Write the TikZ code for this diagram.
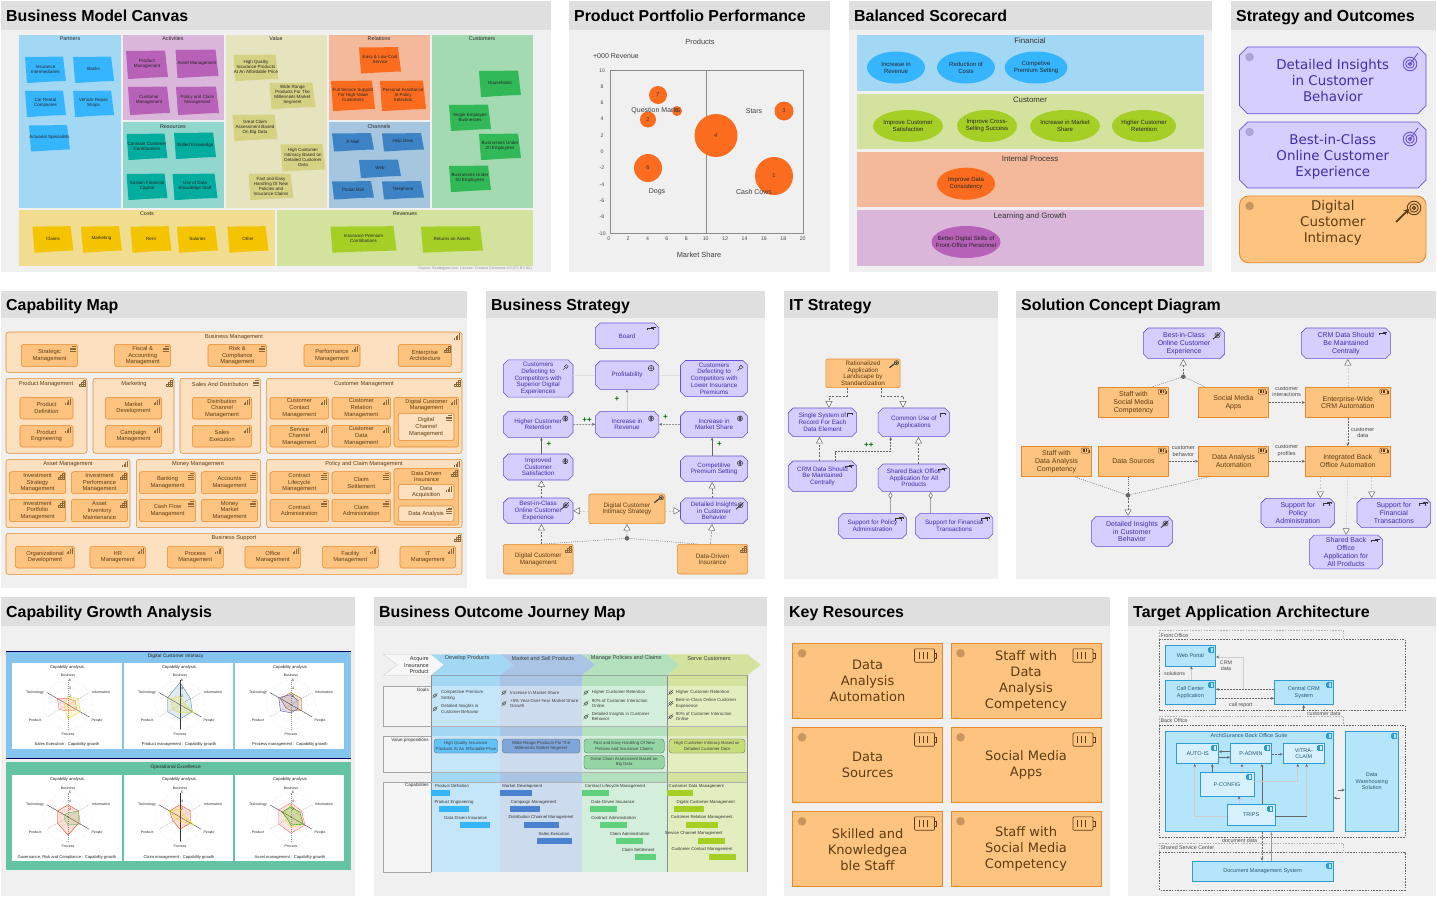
\documentclass[tikz,border=0pt]{standalone}
\usepackage{fontspec}
\setmainfont{Liberation Sans}
\newfontfamily\verdfont{DejaVu Sans}
\usetikzlibrary{arrows.meta,shapes.geometric,shapes.misc,calc}
\definecolor{panelbg}{HTML}{F0F0F0}
\definecolor{titlebg}{HTML}{DFDFDF}
\definecolor{skyband}{HTML}{A3D8F5}
\definecolor{limeband}{HTML}{D3E29D}
\definecolor{peachband}{HTML}{F4B99A}
\definecolor{lilacband}{HTML}{DAB7DA}
\definecolor{tealband}{HTML}{92D7CE}
\definecolor{creamband}{HTML}{E6E3BF}
\definecolor{steelband}{HTML}{A6C6E0}
\definecolor{mintband}{HTML}{A3DAB2}
\definecolor{sandband}{HTML}{F0DD8F}
\definecolor{skynote}{HTML}{36B5FF}
\definecolor{plumnote}{HTML}{B861B8}
\definecolor{tealnote}{HTML}{00AD9F}
\definecolor{olivenote}{HTML}{D6D283}
\definecolor{orangenote}{HTML}{FC6C1E}
\definecolor{bluenote}{HTML}{3C83C6}
\definecolor{greennote}{HTML}{32B957}
\definecolor{goldnote}{HTML}{F5C400}
\definecolor{limenote}{HTML}{A6CF26}
\definecolor{motfill}{HTML}{D6CEFF}
\definecolor{motline}{HTML}{6A50D8}
\definecolor{mottext}{HTML}{3F2FA8}
\definecolor{resfill}{HTML}{FFC380}
\definecolor{resline}{HTML}{E58A2E}
\definecolor{restext}{HTML}{5C3D12}
\definecolor{capfill}{HTML}{FDE0BF}
\definecolor{appfill}{HTML}{B5E5FB}
\definecolor{appline}{HTML}{2F9BD4}
\definecolor{apptext}{HTML}{2A5A78}
\definecolor{linegray}{HTML}{666666}
\definecolor{faintgray}{HTML}{CCCCCC}
\definecolor{jBlueD}{HTML}{A3D8F5}
\definecolor{jBlueL}{HTML}{C5E6F8}
\definecolor{jSteelD}{HTML}{A9C4E4}
\definecolor{jSteelL}{HTML}{CCDCEE}
\definecolor{jMintD}{HTML}{B3E0BD}
\definecolor{jMintL}{HTML}{D3EEDA}
\definecolor{jLimeD}{HTML}{D3E29D}
\definecolor{jLimeL}{HTML}{E2EEC0}
\definecolor{jBlueBar}{HTML}{4A82CF}
\definecolor{jGreenBar}{HTML}{5FD07C}
\definecolor{growthblue}{HTML}{85C4EE}
\definecolor{growthgreen}{HTML}{64C3A3}
\definecolor{motdot}{HTML}{AFA4D6}
\definecolor{resdot}{HTML}{C9965F}
\definecolor{iconbrown}{HTML}{8A6A3A}
\tikzset{
  paneltitle/.style={anchor=base west,inner sep=0pt,font=\fontsize{15.9}{18}\selectfont\bfseries},
  fivepx/.style={align=center,inner sep=0pt,text=black!85,font=\fontsize{4.5}{5}\selectfont},
  cvhead/.style={inner sep=0pt,text=black!85,font=\fontsize{5.4}{6}\selectfont},
  bandlab/.style={inner sep=0pt,text=black!80,font=\fontsize{7.8}{8}\selectfont},
  ticklab/.style={inner sep=0pt,text=black!70,font=\fontsize{5.2}{5.4}\selectfont},
  chartlab/.style={inner sep=0pt,text=black!75,font=\fontsize{7}{8}\selectfont},
  bubble/.style={circle,fill=orangenote,inner sep=0pt,text=black!80,font=\fontsize{5.5}{5.5}\selectfont},
  scoreell/.style={ellipse,inner sep=0pt,align=center,text=black!85,font=\fontsize{6}{7}\selectfont},
  bigmot/.style={chamfered rectangle,chamfered rectangle xsep=4pt,chamfered rectangle ysep=4pt,draw=motline,line width=.7pt,fill=motfill,align=center,inner sep=0pt,text=mottext,font=\verdfont\fontsize{13.4}{16}\selectfont},
  bigres/.style={rounded corners=9pt,draw=resline,line width=.9pt,fill=resfill,align=center,inner sep=0pt,text=restext,font=\verdfont\fontsize{13.4}{16}\selectfont},
  keybox/.style={draw=resline,line width=1pt,fill=resfill,align=center,inner sep=0pt,text=restext,font=\verdfont\fontsize{13}{16}\selectfont,execute at begin node={\rule{0pt}{15pt}}},
  capgroup/.style={rounded corners=2.5pt,draw=resline,line width=.55pt,fill=capfill},
  capbox/.style={rounded corners=2.5pt,draw=resline,line width=.55pt,fill=resfill,align=center,inner sep=0pt,text=restext,font=\fontsize{5.8}{6.6}\selectfont},
  capinner/.style={capbox,fill=capfill},
  caplab/.style={inner sep=0pt,text=restext,font=\fontsize{5.7}{6.6}\selectfont,align=center},
  motbox/.style={chamfered rectangle,chamfered rectangle xsep=2.4pt,chamfered rectangle ysep=2.4pt,draw=motline,line width=.55pt,fill=motfill,align=center,inner sep=0pt,text=mottext,font=\fontsize{6.3}{6.7}\selectfont},
  stratres/.style={rounded corners=2pt,draw=resline,line width=.55pt,fill=resfill,align=center,inner sep=0pt,text=restext,font=\fontsize{6.3}{6.7}\selectfont},
  solmot/.style={motbox,font=\fontsize{7}{7.9}\selectfont},
  solres/.style={draw=resline,line width=.6pt,fill=resfill,align=center,inner sep=0pt,text=restext,font=\fontsize{7}{7.9}\selectfont},
  junc/.style={circle,fill=linegray,minimum size=4.6pt,inner sep=0pt},
  flowln/.style={draw=linegray,line width=.55pt,dash pattern=on 2pt off 1pt,-{Stealth[length=3pt,width=2.8pt]}},
  solidln/.style={draw=linegray,line width=.55pt,-{Stealth[length=3pt,width=2.8pt]}},
  faintln/.style={draw=faintgray,line width=.5pt,-{Stealth[length=3pt,width=2.8pt,color=linegray]}},
  realln/.style={draw=linegray,line width=.5pt,dash pattern=on 2pt off 1.5pt,-{Triangle[open,length=6.5pt,width=7pt,fill=white]}},
  lightreal/.style={draw=faintgray,line width=.5pt,dash pattern=on 2pt off 1.5pt,-{Triangle[open,color=linegray,length=6.5pt,width=7pt,fill=white]}},
  assocln/.style={draw=linegray,line width=.45pt,dash pattern=on 1pt off 1.2pt},
  aggrln/.style={draw=faintgray!80!black,line width=.5pt,-{Diamond[open,color=linegray,length=7pt,width=4pt,fill=white]}},
  plusmark/.style={inner sep=0pt,text=green!45!black,font=\fontsize{8}{8}\selectfont\bfseries},
  edgelab/.style={align=center,inner sep=0pt,text=black!70,font=\fontsize{5.6}{6.6}\selectfont},
  talab/.style={edgelab,font=\fontsize{5.3}{6.2}\selectfont},
  icoline/.style={draw=iconbrown,line width=.4pt},
  motico/.style={draw=black!80,line width=.45pt},
  resicoline/.style={draw=restext,line width=.6pt},
  radring/.style={draw=black!30,line width=.3pt,dotted},
  radspoke/.style={draw=black!40,line width=.3pt,dash pattern=on 1pt off 1pt},
  raddark/.style={draw=black!80,line width=.35pt},
  radtext/.style={inner sep=0pt,text=black!85,font=\fontsize{3.5}{4}\selectfont},
  radcap/.style={inner sep=0pt,text=black!85,font=\fontsize{4.1}{5}\selectfont},
  jtext/.style={anchor=west,align=left,inner sep=0pt,text=black!75,font=\fontsize{4.4}{5.3}\selectfont},
  jright/.style={anchor=east,align=right,inner sep=0pt,text=black!80,font=\fontsize{4.6}{7}\selectfont},
  jhead/.style={inner sep=0pt,text=black!75,font=\fontsize{5.6}{6}\selectfont},
  jvalue/.style={rounded corners=3pt,draw=linegray,line width=.35pt,align=center,inner sep=0pt,text=black!75,font=\fontsize{4.3}{5.2}\selectfont},
  jcap/.style={inner sep=0pt,text=black!80,font=\fontsize{4.3}{5}\selectfont},
  appbox/.style={draw=appline,line width=.6pt,fill=appfill,align=center,inner sep=0pt,text=apptext,font=\fontsize{5.5}{6.4}\selectfont},
  appinner/.style={appbox,fill=appfill!55!white},
  grpdash/.style={draw=black!60,line width=.45pt,dash pattern=on 1.6pt off 1.2pt},
  grptab/.style={draw=black!30,line width=.4pt,dash pattern=on 1.6pt off 1.2pt},
  grplab/.style={anchor=west,inner sep=0pt,text=black!70,font=\fontsize{5.3}{5.5}\selectfont},
}
\newcounter{noteno}
\newcommand\panel[7]{%
  \fill[panelbg] (#2,#3) rectangle (#4,#5);
  \fill[titlebg] (#2,#3) rectangle (#4,#6);
  \node[paneltitle] (#1) at (#2+5,{(#3+#6)/2+5.5}) {#7};}
\newcommand\boxat[7][]{%
  \node[#2,minimum width={(#5-#3)*1pt},minimum height={(#6-#4)*1pt}] (#1) at ({(#3+#5)/2},{(#4+#6)/2}) {#7};
  \boxicon{#1}}
\newcommand\boxicon[2]{\begin{scope}[shift={(#1.north east)}]#2\end{scope}}
\newcommand\sticky[6]{%
  \stepcounter{noteno}
  \fill[#5] (#1-#3/2,#2-#4/2) -- (#1+#3/2-3,#2-#4/2-.4) -- (#1+#3/2,#2+#4/2-2) .. controls (#1,#2+#4/2-1.5) and (#1-#3/2+8,#2+#4/2) .. (#1-#3/2+2,#2+#4/2) -- cycle;
  \node[fivepx] (note\thenoteno) at (#1,#2-1) {#6};}
\newcommand\barico{\foreach \i/\h in {0/2,1.6/3.5,3.2/5,4.8/6.5}{\draw[icoline] (-8+\i,8)--(-8+\i,8-\h);}}
\newcommand\listico{\draw[icoline] (-6,2.2)--(-2,2.2);\foreach \yy in {3.9,5.6,7.3}{\draw[icoline] (-8,\yy)--(-2,\yy);}}
\newcommand\gridico{\draw[icoline] (-8,8) rectangle (-2,6) (-6,8) rectangle (-4,4) (-4,8) rectangle (-2,2) (-6,6)--(-2,6) (-4,4)--(-2,4);}
\newcommand\resico{\draw[resicoline,rounded corners=1pt] (-28.5,5.6) rectangle (-8.5,19);
  \draw[resicoline] (-8.5,10)--(-6.5,10)--(-6.5,15)--(-8.5,15);
  \foreach \i in {-24,-20,-16}{\draw[resicoline] (\i,9)--(\i,16);}}
\newcommand\smallres{\begin{scope}[scale=.38,resicoline/.style={draw=restext,line width=.35pt}]\resico\end{scope}}
\newcommand\goalico{\draw[motico] (-5.5,5) circle (2.6) (-5.5,5) circle (1.2);\fill[black!80] (-5.5,5) circle (.7) (-6,2.4) rectangle (-5,7.6);}
\newcommand\outcomeico{\draw[motico] (-5,5) circle (2.6) (-5,5) circle (1.2);\draw[motico,line width=.8pt] (-9.5,9)--(-5,5);\draw[motico] (-5,5)--(-2,2);}
\newcommand\driverico{\draw[motico] (-5.5,5) circle (2.8) (-8.3,5)--(-2.7,5) (-5.5,2.2)--(-5.5,7.8);}
\newcommand\assessico{\draw[motico] (-4.5,4.5) circle (1.9) (-5.8,5.8)--(-8,8);}
\newcommand\principico{\draw[motico] (-7,7)--(-7,3)--(-2,3)--(-2,5);}
\newcommand\reqico{\draw[motico] (-9,5)--(-9,3)--(-3,3)--(-3,5) (-5.5,1.7)--(-1.5,1.7)--(-1.5,3);}
\newcommand\courseico{\draw[motico] (-4,4) circle (2.2) (-4,4) circle (1);\draw[motico,line width=1.1pt] (-11,9)--(-6,5);}
\newcommand\appico{\draw[draw=appline,line width=.3pt] (-7,2) rectangle (-2.5,7) (-8,3) rectangle (-6,4) (-8,5) rectangle (-6,6);}
\newcommand\bigtarget[3]{\draw[draw=#3,line width=.9pt] (#1,#2) circle (6.8) (#1,#2) circle (4.2) (#1,#2) circle (1.8);\fill[#3] (#1,#2) circle (.8);}
\newcommand\radpoly[7]{\filldraw[draw=#1,fill=#1,fill opacity=.16,line width=.35pt] (-90:#2*4.05)--(-30:#3*4.05)--(30:#4*4.05)--(90:#5*4.05)--(150:#6*4.05)--(210:#7*4.05)--cycle;}
\newcommand\radchart[6]{%
  \begin{scope}[shift={(#2,#3)}]
    \fill[white] (0,0) rectangle (#4,86);
    \node[radcap] (#1title) at (55,4.2) {Capability analysis};
    \begin{scope}[shift={(56,41.7)}]
      \foreach \rr in {8.1,16.2,24.3}{\draw[radring] (0,0) circle (\rr);}
      \foreach \ang in {-90,-30,90,150}{\draw[radspoke] (0,0)--(\ang:24.3);}
      \foreach \ang in {30,210}{\draw[raddark] (0,0)--(\ang:24.3);}
      #6
      \foreach \v/\rr in {2/8.1,4/16.2,6/24.3}{\node[radtext,anchor=west] (#1tick\v) at (1,-\rr) {\v};}
      \node[radtext] (#1a) at (0,-29) {Business};
      \node[radtext] (#1b) at (33,-12.3) {Information};
      \node[radtext] (#1c) at (29,15.7) {People};
      \node[radtext] (#1d) at (0,29.7) {Process};
      \node[radtext] (#1e) at (-33,15.7) {Product};
      \node[radtext] (#1f) at (-33,-12.3) {Technology};
    \end{scope}
    \node[radcap] (#1cap) at (55,81.7) {#5};
  \end{scope}}
\newcommand\capbar[6]{%
  \stepcounter{noteno}
  \node[jcap] (bar\thenoteno) at (#2,#3) {#1};
  \fill[#6] (#4,#3+4.3) rectangle (#5,#3+9.8);}
\newcommand\jgoal[4]{%
  \stepcounter{noteno}
  \draw[black!70,line width=.35pt] (#1,#2) circle (1.9) (#1-2.5,#2+2.5)--(#1+2.5,#2-2.5);
  \node[jtext] (goal\thenoteno) at (#3,#2) {#4};}
\begin{document}
\begin{tikzpicture}[x=1pt,y=-1pt]
\useasboundingbox (0,0) rectangle (1437,897);
\fill[white] (0,0) rectangle (1437,897);
\panel{pCanvas}{1}{1}{551}{272}{30}{Business Model Canvas}
\panel{pPortfolio}{569}{1}{830}{272}{30}{Product Portfolio Performance}
\panel{pScore}{849}{1}{1212}{272}{30}{Balanced Scorecard}
\panel{pOutcome}{1231}{1}{1436}{272}{30}{Strategy and Outcomes}
\panel{pCapMap}{1}{291}{467}{588}{318}{Capability Map}
\panel{pBizStrat}{486}{291}{765}{579}{318}{Business Strategy}
\panel{pItStrat}{784}{291}{998}{579}{318}{IT Strategy}
\panel{pConcept}{1016}{291}{1436}{579}{318}{Solution Concept Diagram}
\panel{pGrowth}{1}{597}{355}{896}{626}{Capability Growth Analysis}
\panel{pJourney}{374}{597}{767}{896}{626}{Business Outcome Journey Map}
\panel{pKey}{784}{597}{1110}{896}{626}{Key Resources}
\panel{pTarget}{1128}{597}{1436}{896}{626}{Target Application Architecture}

\fill[skyband] (19,35) rectangle (121,208);
\fill[lilacband] (122.5,35) rectangle (224,120);
\fill[tealband] (122.5,122) rectangle (224,208);
\fill[creamband] (225.7,35) rectangle (327,208);
\fill[peachband] (329,35) rectangle (430,120);
\fill[steelband] (329,122) rectangle (430,208);
\fill[mintband] (432,35) rectangle (533,208);
\fill[sandband] (19,210) rectangle (275,266);
\fill[limeband] (277,210) rectangle (533,266);
\node[cvhead] (cvPartners) at (70,39) {Partners};
\node[cvhead] (cvActivities) at (173,39) {Activities};
\node[cvhead] (cvValue) at (276,39) {Value};
\node[cvhead] (cvRelations) at (379,39) {Relations};
\node[cvhead] (cvCustomers) at (482,39) {Customers};
\node[cvhead] (cvResources) at (173,127) {Resources};
\node[cvhead] (cvChannels) at (379,127) {Channels};
\node[cvhead] (cvCosts) at (147,214) {Costs};
\node[cvhead] (cvRevenues) at (405,214) {Revenues};
\sticky{45.5}{70}{41}{26}{skynote}{Insurance\\Intermediaries}
\sticky{93.6}{70}{41}{26}{skynote}{Banks}
\sticky{45.5}{104}{41}{26}{skynote}{Car Rental\\Companies}
\sticky{93.6}{104}{41}{26}{skynote}{Vehicle Repair\\Shops}
\sticky{49.5}{138.5}{41}{26}{skynote}{Actuarial Specialists}
\sticky{147}{65}{42}{28}{plumnote}{Product\\Management}
\sticky{197}{64}{43}{28}{plumnote}{Asset Management}
\sticky{149}{101}{42}{28}{plumnote}{Customer\\Management}
\sticky{197.5}{101}{43}{28}{plumnote}{Policy and Claim\\Management}
\sticky{147}{147}{41}{26}{tealnote}{Constant Customer\\Contributions}
\sticky{195}{146}{42}{26}{tealnote}{Skilled Knowledge}
\sticky{147}{187}{41}{26}{tealnote}{Sustain Financial\\Capital}
\sticky{195}{187}{45}{26}{tealnote}{Use of Data\\Knowledge Staff}
\sticky{256}{68}{45}{26}{olivenote}{High Quality\\Insurance Products\\At An Affordable Price}
\sticky{292.5}{96}{46}{26}{olivenote}{Wide Range\\Products For The\\Millennials Market\\Segment}
\sticky{255}{128}{45}{26}{olivenote}{Great Claim\\Assessment Based\\On Big Data}
\sticky{303}{158}{45}{27}{olivenote}{High Customer\\Intimacy Based on\\Detailed Customer\\Data}
\sticky{271}{187}{45}{26}{olivenote}{Fast and Easy\\Handling Of New\\Policies and\\Insurance Claims}
\sticky{380}{60.5}{42}{26}{orangenote}{Easy \& Low-Cost\\Service}
\sticky{353}{96}{44}{30}{orangenote}{Full Service Support\\For High-Value\\Customers}
\sticky{403}{96}{46}{30}{orangenote}{Personal Assistance\\In Policy\\Selection}
\sticky{353}{142.5}{42}{18}{bluenote}{E-Mail}
\sticky{403}{142.5}{42}{18}{bluenote}{Help Desk}
\sticky{380}{169}{42}{18}{bluenote}{Web}
\sticky{353}{190.5}{42}{18}{bluenote}{Postal Mail}
\sticky{403}{190.5}{42}{18}{bluenote}{Telephone}
\sticky{500}{84}{42}{26}{greennote}{Households}
\sticky{470}{118}{42}{26}{greennote}{Single Employee\\Businesses}
\sticky{500}{147}{42}{26}{greennote}{Businesses Under\\20 Employees}
\sticky{470}{179}{42}{26}{greennote}{Businesses Under\\50 Employees}
\sticky{53}{239.6}{41}{26}{goldnote}{Claims}
\sticky{101.5}{239.6}{41}{26}{goldnote}{Marketing}
\sticky{151}{239.6}{41}{26}{goldnote}{Rent}
\sticky{197.5}{239.6}{41}{26}{goldnote}{Salaries}
\sticky{248}{239.6}{41}{26}{goldnote}{Other}
\sticky{363.5}{239.6}{66}{26}{limenote}{Insurance Premium\\Contributions}
\sticky{452}{239.6}{62}{26}{limenote}{Returns on Assets}
\node[inner sep=0pt,text=black!45,font=\fontsize{3.6}{4}\selectfont,anchor=east] (cvSource) at (532,269) {Source: Strategyzer.com, License: Creative Commons 3.0 (CC BY-SA)};

\draw[black!45,line width=.6pt] (610,70.3) rectangle (803,233.3) (706.5,70.3)--(706.5,233.3);
\node[chartlab,font=\fontsize{7.4}{8}\selectfont] (ppTitle) at (700,42) {Products};
\node[chartlab,font=\fontsize{7}{8}\selectfont] (ppRev) at (616,56) {+000 Revenue};
\node[chartlab,font=\fontsize{7.4}{8}\selectfont] (ppShare) at (699,255) {Market Share};
\foreach \v [count=\k from 0] in {10,8,6,4,2,0,-2,-4,-6,-8,-10}{\node[ticklab] (ppy\k) at (602,70.3+16.3*\k) {\v};}
\foreach \v [count=\k from 0] in {0,2,4,6,8,10,12,14,16,18,20}{\node[ticklab] (ppx\k) at (608.7+19.4*\k,239) {\v};}
\node[bubble,minimum size=18pt] (bb7) at (658,95) {7};
\node[bubble,minimum size=10pt] (bb5) at (677,111) {5};
\node[bubble,minimum size=16pt] (bb2) at (648,119.5) {2};
\node[bubble,minimum size=43pt] (bb4) at (716,135.5) {4};
\node[bubble,minimum size=19pt] (bb3) at (784,111) {3};
\node[bubble,minimum size=28pt] (bb6) at (648,168) {6};
\node[bubble,minimum size=38pt] (bb1) at (774,176) {1};
\node[chartlab] (ppQ) at (656,111) {Question Marks};
\node[chartlab] (ppS) at (754,111) {Stars};
\node[chartlab] (ppD) at (657,192) {Dogs};
\node[chartlab] (ppC) at (754,192) {Cash Cows};

\fill[skyband] (857,35) rectangle (1204,90.7);
\fill[limeband] (857,93.7) rectangle (1204,148.7);
\fill[peachband] (857,152) rectangle (1204,207);
\fill[lilacband] (857,210) rectangle (1204,265.7);
\node[bandlab] (bsF) at (1030,41) {Financial};
\node[bandlab] (bsC) at (1030,100) {Customer};
\node[bandlab] (bsI) at (1030,158.5) {Internal Process};
\node[bandlab] (bsL) at (1030,216) {Learning and Growth};
\node[scoreell,fill=skynote,minimum width=58pt,minimum height=32pt] (sa) at (896,67.5) {Increase in\\Revenue};
\node[scoreell,fill=skynote,minimum width=58pt,minimum height=32pt] (sb) at (966,67.5) {Reduction of\\Costs};
\node[scoreell,fill=skynote,minimum width=58pt,minimum height=32pt] (sc) at (1036,67.5) {Competive\\Premium Setting};
\node[scoreell,fill=limenote,minimum width=58pt,minimum height=32pt] (sd) at (908,126) {Improve Customer\\Satisfaction};
\node[scoreell,fill=limenote,minimum width=58pt,minimum height=32pt] (se) at (987,126) {Improve Cross-\\Selling Success};
\node[scoreell,fill=limenote,minimum width=58pt,minimum height=32pt] (sf) at (1065,126) {Increase in Market\\Share};
\node[scoreell,fill=limenote,minimum width=58pt,minimum height=32pt] (sg) at (1144,126) {Higher Customer\\Retention};
\node[scoreell,fill=orangenote,minimum width=58pt,minimum height=32pt] (sh) at (966,183.7) {Improve Data\\Consistency};
\fill[plumnote] (966,242) ellipse (34.5 and 16);
\node[scoreell,minimum width=2pt] (si) at (966,242) {Better Digital Skills of\\Front-Office Personnel};

\boxat[soA]{bigmot}{1239.5}{47}{1426}{113.7}{Detailed Insights\\in Customer\\Behavior}{}
\boxat[soB]{bigmot}{1239.5}{122}{1426}{188}{\rule{0pt}{14pt}Best-in-Class\\Online Customer\\Experience}{}
\boxat[soC]{bigres}{1239.5}{196}{1426}{262.7}{Digital\\Customer\\Intimacy\\\mbox{}}{}
\fill[motdot] (1249.6,57) circle (4.3) (1249.6,132) circle (4.3);
\fill[resdot] (1249.6,206) circle (4.3);
\bigtarget{1410}{64}{motline}
\draw[motline,line width=.8pt] (1410,64)--(1418,53);
\bigtarget{1410}{139}{motline}
\draw[motline,line width=.8pt] (1410,139)--(1418,128);
\bigtarget{1414}{208}{restext}
\draw[restext,line width=1.8pt,-{Stealth[length=5pt,width=6pt]}] (1396,222)--(1409,209);

\boxat[cgBiz]{capgroup}{6}{332}{462}{372.7}{}{\barico}
\boxat[cgProd]{capgroup}{6}{378.3}{87}{453.3}{}{\gridico}
\boxat[cgMark]{capgroup}{93}{378.3}{174}{453.3}{}{\gridico}
\boxat[cgSales]{capgroup}{180}{378.3}{260.7}{453.3}{}{\listico}
\boxat[cgCust]{capgroup}{266.7}{378.3}{462}{453.3}{}{\gridico}
\boxat[cgAsset]{capgroup}{6}{459.3}{130}{527.7}{}{\barico}
\boxat[cgMoney]{capgroup}{136.3}{459.3}{260.7}{527.7}{}{}
\boxat[cgPolicy]{capgroup}{266.7}{459.3}{462}{527.7}{}{\barico}
\boxat[cgSupport]{capgroup}{6}{533.3}{462}{574.3}{}{\gridico}
\node[caplab] (clBiz) at (234,337) {Business Management};
\node[caplab] (clProd) at (46,384) {Product Management};
\node[caplab] (clMark) at (134,384) {Marketing};
\node[caplab] (clSales) at (220,384) {Sales And Distribution};
\node[caplab] (clCust) at (364,384) {Customer Management};
\node[caplab] (clAsset) at (68,464.3) {Asset Management};
\node[caplab] (clMoney) at (198,464.3) {Money Management};
\node[caplab] (clPolicy) at (364,464.3) {Policy and Claim Management};
\node[caplab] (clSupport) at (234,538.5) {Business Support};
\boxat[cb01]{capbox}{21.3}{344.3}{77.7}{366.7}{Strategic\\Management}{\listico}
\boxat[cb02]{capbox}{114.7}{344.3}{170.7}{366.7}{Fiscal \&\\Accounting\\Management}{\listico}
\boxat[cb03]{capbox}{208}{344.3}{266.7}{366.7}{Risk \&\\Compliance\\Management}{\listico}
\boxat[cb04]{capbox}{304}{344.3}{360}{366.7}{Performance\\Management}{\barico}
\boxat[cb05]{capbox}{398.3}{344.3}{451.7}{366.7}{Enterprise\\Architecture}{\gridico}
\boxat[cb06]{capbox}{20}{397.3}{73}{419}{Product\\Definition}{\barico}
\boxat[cb07]{capbox}{20}{425.3}{73}{447}{Product\\Engineering}{\barico}
\boxat[cb08]{capbox}{105.3}{397.3}{161.7}{419}{Market\\Development}{\barico}
\boxat[cb09]{capbox}{105.3}{425.3}{161.7}{447}{Campaign\\Management}{\barico}
\boxat[cb10]{capbox}{192.3}{397.3}{251.7}{419}{Distribution\\Channel\\Management}{\barico}
\boxat[cb11]{capbox}{192.3}{425.3}{251.7}{447}{Sales\\Execution}{\barico}
\boxat[cb12]{capbox}{270}{397.3}{328.7}{419}{Customer\\Contact\\Management}{\barico}
\boxat[cb13]{capbox}{332}{397.3}{390.7}{419}{Customer\\Relation\\Management}{\barico}
\boxat[cb14]{capbox}{270}{425.3}{328.7}{447}{Service\\Channel\\Management}{\barico}
\boxat[cb15]{capbox}{332}{425.3}{390.7}{447}{Customer\\Data\\Management}{\barico}
\boxat[cb16]{capbox}{394}{397.3}{458.7}{447}{}{\barico}
\node[caplab] (clDigital) at (426.5,405) {Digital Customer\\Management};
\boxat[cb17]{capinner}{398.3}{413.3}{454}{440.7}{Digital\\Channel\\Management}{\listico}
\boxat[cb18]{capbox}{9.3}{471.7}{65.7}{493.7}{Investment\\Strategy\\Management}{\gridico}
\boxat[cb19]{capbox}{71.3}{471.7}{127.7}{493.7}{Investment\\Performance\\Management}{\gridico}
\boxat[cb20]{capbox}{9.3}{499.3}{65.7}{521.7}{Investment\\Portfolio\\Management}{\gridico}
\boxat[cb21]{capbox}{71.3}{499.3}{127.7}{521.7}{Asset\\Inventory\\Maintenance}{\gridico}
\boxat[cb22]{capbox}{139.3}{471.7}{195.7}{493.7}{Banking\\Management}{\listico}
\boxat[cb23]{capbox}{201.3}{471.7}{257.7}{493.7}{Accounts\\Management}{\listico}
\boxat[cb24]{capbox}{139.3}{499.3}{195.7}{521.7}{Cash Flow\\Management}{\listico}
\boxat[cb25]{capbox}{201.3}{499.3}{257.7}{521.7}{Money\\Market\\Management}{\listico}
\boxat[cb26]{capbox}{270}{471.7}{328.7}{493.7}{Contract\\Lifecycle\\Management}{\listico}
\boxat[cb27]{capbox}{332}{471.7}{390.7}{493.7}{Claim\\Settlement}{\listico}
\boxat[cb28]{capbox}{270}{499.3}{328.7}{521.7}{Contract\\Administration}{\listico}
\boxat[cb29]{capbox}{332}{499.3}{390.7}{521.7}{Claim\\Administration}{\listico}
\boxat[cb30]{capbox}{394}{468.3}{458.7}{525}{}{\gridico}
\node[caplab] (clDriven) at (426.5,476.5) {Data Driven\\Insurance};
\boxat[cb31]{capinner}{398.3}{484.3}{454}{499.7}{Data\\Acquisition}{\barico}
\boxat[cb32]{capinner}{398.3}{506}{454}{521.3}{Data Analysis}{\listico}
\boxat[cb33]{capbox}{15.3}{546.3}{74.7}{568}{Organizational\\Development}{\barico}
\boxat[cb34]{capbox}{90}{546.3}{145.7}{568}{HR\\Management}{\barico}
\boxat[cb35]{capbox}{167.3}{546.3}{223.3}{568}{Process\\Management}{\barico}
\boxat[cb36]{capbox}{245}{546.3}{300.7}{568}{Office\\Management}{\barico}
\boxat[cb37]{capbox}{322.3}{546.3}{378.3}{568}{Facility\\Management}{\barico}
\boxat[cb38]{capbox}{400}{546.3}{455.7}{568}{IT\\Management}{\barico}

\boxat[bsBoard]{motbox}{595.3}{323}{658.8}{348.7}{Board}{\reqico}
\boxat[bsDefA]{motbox}{503.3}{361}{573}{396}{Customers\\Defecting to\\Competitors with\\Superior Digital\\Experiences}{\assessico}
\boxat[bsProfit]{motbox}{595.3}{361}{658.8}{389.3}{Profitability}{\driverico}
\boxat[bsDefB]{motbox}{680.5}{361}{747.7}{396}{Customers\\Defecting to\\Competitors with\\Lower Insurance\\Premiums}{\assessico}
\boxat[bsRet]{motbox}{503.3}{411.3}{573}{437.3}{Higher Customer\\Retention}{\goalico}
\boxat[bsRev]{motbox}{595.3}{411.3}{658.8}{437.3}{Increase in\\Revenue}{\goalico}
\boxat[bsMkt]{motbox}{680.5}{411.3}{747.7}{437.3}{Increase in\\Market Share}{\goalico}
\boxat[bsSat]{motbox}{503.3}{454}{573}{480}{Improved\\Customer\\Satisfaction}{\goalico}
\boxat[bsPrem]{motbox}{680.5}{456}{747.7}{481.7}{Competitive\\Premium Setting}{\goalico}
\boxat[bsBest]{motbox}{503.3}{498}{573}{523.7}{Best-in-Class\\Online Customer\\Experience}{\outcomeico}
\boxat[bsInsight]{motbox}{680.5}{498}{747.7}{523.7}{Detailed Insights\\in Customer\\Behavior}{\outcomeico}
\boxat[bsDigital]{stratres}{588.9}{494}{665}{523.7}{Digital Customer\\Intimacy Strategy}{\courseico}
\boxat[bsDcm]{stratres}{503.3}{544.3}{573}{574}{Digital Customer\\Management}{\gridico}
\boxat[bsDdi]{stratres}{677.4}{544.3}{747.7}{574}{Data-Driven\\Insurance}{\gridico}
\node[junc] (bsJ) at (627,538.3) {};
\draw[draw=faintgray!60,line width=.4pt] (bsDefA.east |- bsProfit) -- (bsProfit.west);
\draw[draw=faintgray!60,line width=.4pt] (bsDefB.west |- bsProfit) -- (bsProfit.east);
\draw[faintln] (bsRev.north) -- (bsProfit.south);
\draw[flowln] (bsRet) -- (bsRev);
\draw[flowln] (bsMkt) -- (bsRev);
\draw[solidln] ([xshift=3.3pt]bsSat.north) -- ([xshift=3.3pt]bsRet.south);
\draw[solidln] ([xshift=-2pt]bsPrem.north) -- ([xshift=-2pt]bsMkt.south);
\draw[realln] ([xshift=3.3pt]bsBest.north) -- ([xshift=3.3pt]bsSat.south);
\draw[realln] ([xshift=-2pt]bsInsight.north) -- ([xshift=-2pt]bsPrem.south);
\draw[realln] ([xshift=3.3pt]bsDcm.north) -- ([xshift=3.3pt]bsBest.south);
\draw[realln] ([xshift=-2pt]bsDdi.north) -- ([xshift=-2pt]bsInsight.south);
\draw[lightreal] (bsDigital.west |- bsBest) -- (bsBest.east);
\draw[lightreal] (bsDigital.east |- bsInsight) -- (bsInsight.west);
\draw[realln] (bsJ) -- (bsDigital.south);
\draw[assocln] (bsJ) -- ([xshift=5pt]bsDcm.north);
\draw[assocln] (bsJ) -- ([xshift=-15pt]bsDdi.north);
\node[plusmark] (bsP1) at (617,399.5) {+};
\node[plusmark] (bsP2) at (587,420) {++};
\node[plusmark] (bsP3) at (665.5,417.5) {+};
\node[plusmark] (bsP4) at (549,443.7) {+};
\node[plusmark] (bsP5) at (719.5,443.7) {+};

\boxat[itRat]{stratres}{825.8}{359}{900.2}{387.7}{Rationalized\\Application\\Landscape by\\Standardization}{\courseico}
\boxat[itSingle]{motbox}{788.3}{408}{856.6}{436.7}{Single System of\\Record For Each\\Data Element}{\principico}
\boxat[itCommon]{motbox}{878.2}{408}{949.6}{436.7}{Common Use of\\Applications}{\principico}
\boxat[itCrm]{motbox}{788.3}{461}{856.6}{491.7}{CRM Data Should\\Be Maintained\\Centrally}{\reqico}
\boxat[itShared]{motbox}{878.2}{464}{949.6}{491.7}{Shared Back Office\\Application for All\\Products}{\reqico}
\boxat[itPol]{motbox}{838.3}{513.3}{906.6}{538.7}{Support for Policy\\Administration}{\reqico}
\boxat[itFin]{motbox}{915.4}{513.3}{992.8}{538.7}{Support for Financial\\Transactions}{\reqico}
\coordinate (itBendA) at (829,396);
\coordinate (itBendB) at (847,396);
\coordinate (itBendC) at (881,396);
\coordinate (itBendD) at (903,396);
\draw[realln] (itBendB |- itRat.south) -- (itBendB) -- (itBendA) -- (itBendA |- itSingle.north);
\draw[realln] (itBendC |- itRat.south) -- (itBendC) -- (itBendD) -- (itBendD |- itCommon.north);
\draw[realln] ([xshift=-3pt]itCrm.north) -- ([xshift=-3pt]itSingle.south);
\draw[realln] (itShared.north -| 918.5,0) -- (itCommon.south -| 918.5,0);
\coordinate (itBendE) at (835,451.7);
\coordinate (itBendF) at (890.7,451.7);
\draw[flowln] (itBendE |- itCrm.north) -- (itBendE) -- (itBendF) -- (itBendF |- itCommon.south);
\node[plusmark] (itP1) at (868.8,445.3) {++};
\draw[aggrln] (itPol.north -| 890.4,0) -- (itShared.south -| 890.4,0);
\draw[aggrln] (itFin.north -| 930.7,0) -- (itShared.south -| 930.7,0);

\boxat[scBest]{solmot}{1143.3}{328}{1224.7}{358.7}{Best-in-Class\\Online Customer\\Experience}{\outcomeico}
\boxat[scCrm]{solmot}{1301.3}{328}{1390.3}{358.7}{CRM Data Should\\Be Maintained\\Centrally}{\reqico}
\boxat[scStaffS]{solres}{1098.3}{387.3}{1168.7}{417.7}{Staff with\\Social Media\\Competency}{\smallres}
\boxat[scApps]{solres}{1198.3}{387.3}{1268.7}{417.7}{Social Media\\Apps}{\smallres}
\boxat[scEnt]{solres}{1305.3}{387.3}{1390.3}{417.7}{Enterprise-Wide\\CRM Automation}{\smallres}
\boxat[scStaffD]{solres}{1021.3}{446.3}{1091.7}{476.3}{Staff with\\Data Analysis\\Competency}{\smallres}
\boxat[scSrc]{solres}{1098.3}{446.3}{1168.7}{476.3}{Data Sources}{\smallres}
\boxat[scAuto]{solres}{1198.3}{446.3}{1268.7}{476.3}{Data Analysis\\Automation}{\smallres}
\boxat[scBack]{solres}{1305.3}{446.3}{1390.3}{476.3}{Integrated Back\\Office Automation}{\smallres}
\boxat[scIns]{solmot}{1091.3}{516.3}{1172.7}{546.7}{Detailed Insights\\in Customer\\Behavior}{\outcomeico}
\boxat[scPol]{solmot}{1261}{498.3}{1334.7}{527.7}{Support for\\Policy\\Administration}{\reqico}
\boxat[scFin]{solmot}{1357}{498.3}{1430.7}{527.7}{Support for\\Financial\\Transactions}{\reqico}
\boxat[scShared]{solmot}{1309.3}{535.3}{1382.7}{568.7}{Shared Back\\Office\\Application for\\All Products}{\reqico}
\node[junc] (scJa) at (1183.3,376.7) {};
\node[junc] (scJb) at (1128,495.3) {};
\draw[realln] (scJa) -- (scBest.south -| scJa);
\draw[assocln] (scJa) -- ([xshift=18pt]scStaffS.north);
\draw[assocln] (scJa) -- ([xshift=-28pt]scApps.north);
\draw[flowln] (scApps) -- (scEnt);
\draw[lightreal] (scEnt.north) -- (scCrm.south -| scEnt.north);
\draw[flowln] (scEnt) -- (scBack);
\draw[flowln] (scSrc) -- (scAuto);
\draw[flowln] (scAuto) -- (scBack);
\draw[assocln] (scJb) -- ([xshift=-18pt]scStaffD.south east);
\draw[assocln] ([xshift=-5.5pt]scSrc.south) -- (scJb);
\draw[assocln] (scJb) -- ([xshift=11.7pt]scAuto.south west);
\draw[realln] (scJb) -- (scIns.north -| scJb);
\draw[lightreal] (scBack.south -| 1320.3,0) -- (scPol.north -| 1320.3,0);
\draw[lightreal] (scBack.south -| 1371.7,0) -- (scFin.north -| 1371.7,0);
\draw[lightreal] (scBack.south) -- (scShared.north);
\node[edgelab] (scL1) at (1286.7,391.7) {customer\\interactions};
\node[edgelab] (scL2) at (1362.7,432.7) {customer\\data};
\node[edgelab] (scL3) at (1183.3,451) {customer\\behavior};
\node[edgelab] (scL4) at (1286.7,451) {customer\\profiles};

\fill[growthblue] (6,651.3) rectangle (351,758.3);
\fill[growthgreen] (6,762) rectangle (351,870);
\draw[black!65!blue,line width=.6pt] (6,651.3)--(351,651.3) (6,758.3)--(351,758.3);
\node[radcap,font=\fontsize{4.9}{5}\selectfont] (cgBlue) at (175.7,656) {Digital Customer Intimacy};
\node[radcap,font=\fontsize{4.9}{5}\selectfont] (cgGreen) at (175.7,767.3) {Operational Excellence};
\radchart{ra}{12}{663}{110}{Sales Execution : Capability growth}{\radpoly{red!60}{1.5}{2}{2.5}{1.5}{2.5}{3}\radpoly{yellow!90!black}{2}{3}{3.5}{3.5}{1}{1}}
\radchart{rb}{124}{663}{109}{Product management : Capability growth}{\draw[raddark] (0,-24.3)--(0,24.3);\radpoly{cyan!60!black}{5.5}{3}{3.5}{3.5}{3.5}{3.5}\radpoly{yellow!90!black}{2}{1}{4}{2}{2}{3}}
\radchart{rc}{235}{663}{109.3}{Process management : Capability growth}{\radpoly{orange!70!black}{3}{3}{3}{1.5}{1.5}{3}\radpoly{blue!50!black!70}{2.5}{2}{2}{2}{3}{3.5}}
\radchart{rd}{12}{775.3}{110}{Governance, Risk and Compliance : Capability growth}{\radpoly{red!55!orange}{3}{3}{3}{4.5}{3}{3}\radpoly{black!40!green!70}{1}{3}{3.5}{2}{1}{1}}
\radchart{re}{124}{775.3}{109}{Claim management : Capability growth}{\draw[raddark] (0,-24.3)--(0,24.3);\radpoly{red!55!orange}{3}{3}{3}{3}{2}{3}\radpoly{yellow!90!black}{2}{1}{4}{1}{1}{3}}
\radchart{rf}{235}{775.3}{109.3}{Asset management : Capability growth}{\radpoly{red!60}{3.5}{3}{4}{4}{3.5}{3.5}\radpoly{yellow!90!black}{3}{2}{3.5}{2.5}{1.5}{2}\radpoly{green!60!black}{2.5}{2.5}{3.5}{2}{1}{2.5}}

\foreach \ya/\yb in {685.7/726.3,736.3/771.7,782/871.7}{
  \fill[black!4] (383.3,\ya) rectangle (431.3,\yb);
  \draw[black!35,line width=.4pt] (431.3,\ya)--(383.3,\ya)--(383.3,\yb)--(431.3,\yb);
}
\node[jright] (jrGoals) at (429,689.7) {Goals};
\node[jright] (jrValue) at (429,740.3) {Value propositions};
\node[jright] (jrCap) at (429,785.7) {Capabilities};
\foreach \xa/\xb/\cd/\cl in {431.3/500/jBlueD/jBlueL,500/582/jSteelD/jSteelL,582/666.7/jMintD/jMintL,666.7/747.3/jLimeD/jLimeL}{
  \fill[\cd] (\xa,675.3) rectangle (\xb,871.7);
  \fill[\cl] (\xa,685.7) rectangle (\xb,726.3);
  \fill[\cl] (\xa,736.3) rectangle (\xb,771.7);
  \fill[\cl] (\xa,782) rectangle (\xb,871.7);
}
\draw[black!45,line width=.4pt] (431.3,675.3)--(431.3,871.7) (666.7,675.3)--(666.7,871.7) (747.3,675.3)--(747.3,871.7) (431.3,675.3)--(747.3,675.3);
\draw[black!30,line width=.4pt] (431.3,726.3)--(747.3,726.3) (431.3,771.7)--(747.3,771.7) (431.3,782)--(747.3,782);
\filldraw[draw=black!20,fill=black!3,line width=.3pt] (383.3,654.3)--(431,654.3)--(444,664.8)--(431,675.3)--(383.3,675.3)--(397.3,664.8)--cycle;
\fill[jBlueD] (431,654.3)--(500,654.3)--(513.3,664.8)--(500,675.3)--(431,675.3)--(444,664.8)--cycle;
\fill[jSteelD] (500,654.3)--(582,654.3)--(595.3,664.8)--(582,675.3)--(500,675.3)--(513.3,664.8)--cycle;
\fill[jMintD] (582,654.3)--(666.7,654.3)--(680,664.8)--(666.7,675.3)--(582,675.3)--(595.3,664.8)--cycle;
\fill[jLimeD] (666.7,654.3)--(747.3,654.3)--(760.7,664.8)--(747.3,675.3)--(666.7,675.3)--(680,664.8)--cycle;
\node[jright,font=\fontsize{5.6}{6.7}\selectfont] (jhA) at (429,665) {Acquire\\Insurance\\Product};
\node[jhead] (jhB) at (467.3,658.3) {Develop Products};
\node[jhead] (jhC) at (543,658.3) {Market and Sell Products};
\node[jhead] (jhD) at (626.3,658.3) {Manage Policies and Claims};
\node[jhead] (jhE) at (709,658.3) {Serve Customers};
\jgoal{435}{695.5}{441}{Competitive Premium\\Setting}
\jgoal{435}{708.8}{441}{Detailed Insights in\\Customer Behavior}
\jgoal{504}{692.5}{510}{Increase in Market Share}
\jgoal{504}{703.4}{510}{+5\% Year-Over-Year Market Share\\Growth}
\jgoal{586}{692.5}{591.7}{Higher Customer Retention}
\jgoal{586}{703.4}{591.7}{90\% of Customer Interaction\\Online}
\jgoal{586}{716.7}{591.7}{Detailed Insights in Customer\\Behavior}
\jgoal{670.7}{692.5}{675.7}{Higher Customer Retention}
\jgoal{670.7}{703.4}{675.7}{Best-in-Class Online Customer\\Experience}
\jgoal{670.7}{716.7}{675.7}{90\% of Customer Interaction\\Online}
\boxat[jvA]{jvalue,fill=skynote!60!skyband}{434}{739}{497.7}{753}{High Quality Insurance\\Products At An Affordable Price}{}
\boxat[jvB]{jvalue,fill=jBlueBar!45!jSteelD}{502.3}{739}{580}{753}{Wide Range Products For The\\Millennials Market Segment}{}
\boxat[jvC]{jvalue,fill=greennote!25!jMintD}{584}{739}{664.3}{753}{Fast and Easy Handling Of New\\Policies and Insurance Claims}{}
\boxat[jvD]{jvalue,fill=greennote!25!jMintD}{584}{755.3}{664.3}{769}{Great Claim Assessment Based on\\Big Data}{}
\boxat[jvE]{jvalue,fill=limenote!30!jLimeD}{669}{739}{745}{753}{High Customer Intimacy Based on\\Detailed Customer Data}{}
\capbar{Product Definition}{452}{786}{431.3}{450}{skynote}
\capbar{Product Engineering}{454}{802}{439}{468.7}{skynote}
\capbar{Data Driven Insurance}{465.7}{817.7}{460.3}{489.7}{skynote}
\capbar{Market Development}{522.3}{786}{500}{532}{jBlueBar}
\capbar{Campaign Management}{533.7}{802}{510.3}{540}{jBlueBar}
\capbar{Distribution Channel Management}{541}{817.7}{524}{558.7}{jBlueBar}
\capbar{Sales Execution}{554}{833.7}{537}{571.7}{jBlueBar}
\capbar{Contract Lifecycle Management}{615}{786}{582}{609}{jGreenBar}
\capbar{Data-Driven Insurance}{613}{802}{590}{617}{jGreenBar}
\capbar{Contract Administration}{613.7}{817.7}{600.3}{627}{jGreenBar}
\capbar{Claim Administration}{629.7}{833.7}{616.3}{643}{jGreenBar}
\capbar{Claim Settlement}{638.3}{849.7}{635}{656}{jGreenBar}
\capbar{Customer Data Management}{696.3}{786}{666.7}{693}{limenote}
\capbar{Digital Customer Management}{705.7}{802}{674.3}{704}{limenote}
\capbar{Customer Relation Management}{701.7}{817.7}{686}{718}{limenote}
\capbar{Service Channel Management}{693.7}{833.7}{698.3}{725}{limenote}
\capbar{Customer Contact Management}{702}{849.7}{709.3}{735.7}{limenote}

\boxat[krA]{keybox}{792.6}{643.7}{942.5}{718.7}{Data\\Analysis\\Automation}{\resico}
\boxat[krB]{keybox}{951}{643.7}{1101}{718.7}{Staff with\\Data\\Analysis\\Competency}{\resico}
\boxat[krC]{keybox}{792.6}{727.7}{942.5}{802.7}{Data\\Sources}{\resico}
\boxat[krD]{keybox}{951}{727.7}{1101}{802.7}{Social Media\\Apps}{\resico}
\boxat[krE]{keybox}{792.6}{811.7}{942.5}{886.7}{Skilled and\\Knowledgea\\ble Staff}{\resico}
\boxat[krF]{keybox}{951}{811.7}{1101}{886.7}{Staff with\\Social Media\\Competency}{\resico}
\foreach \dotx in {802,960.5}{\foreach \doty in {653.3,737.3,821.3}{\fill[resdot] (\dotx,\doty) circle (4.3);}}

\draw[grptab] (1159.6,639.3)--(1159.6,630)--(1343.5,630)--(1343.5,639.3);
\draw[grpdash] (1159.6,639.3) rectangle (1405,710.7);
\node[grplab] (taFront) at (1160.4,635.3) {Front Office};
\draw[grptab] (1159.6,725.3)--(1159.6,716.3)--(1343.5,716.3)--(1343.5,725.3);
\draw[grpdash] (1159.6,725.3) rectangle (1405,837.3);
\node[grplab] (taBack) at (1160.4,721) {Back Office};
\draw[grptab] (1159.6,852)--(1159.6,843.3)--(1343.5,843.3)--(1343.5,852);
\draw[grpdash] (1159.6,852) rectangle (1405,890.3);
\node[grplab] (taShared) at (1160.4,848) {Shared Service Center};
\boxat[taWeb]{appbox}{1165}{645.3}{1215.7}{666}{Web Portal}{\appico}
\boxat[taCall]{appbox}{1165}{680.7}{1215.7}{704.7}{Call Center\\Application}{\appico}
\boxat[taCrm]{appbox}{1274.3}{680.7}{1333.4}{704.7}{Central CRM\\System}{\appico}
\boxat[taSuite]{appbox}{1165}{731}{1333.4}{831.7}{}{\appico}
\node[inner sep=0pt,text=apptext,font=\fontsize{5.5}{6}\selectfont] (taSuiteLab) at (1249,736) {ArchiSurance Back Office Suite};
\boxat[taAuto]{appinner}{1176.7}{743}{1218.6}{763.7}{AUTO-IS}{\appico}
\boxat[taAdmin]{appinner}{1230.4}{743}{1271.4}{763.7}{P-ADMIN}{\appico}
\boxat[taVitra]{appinner}{1283}{743}{1324.6}{763.7}{VITRA-\\CLAIM}{\appico}
\boxat[taConfig]{appinner}{1200.2}{772.3}{1253.8}{796}{P-CONFIG}{\appico}
\boxat[taTrips]{appinner}{1227.4}{804.7}{1274.8}{825.3}{TRIPS}{\appico}
\boxat[taWare]{appbox}{1345}{731}{1398.4}{831.7}{Data\\Warehousing\\Solution}{\appico}
\boxat[taDoc]{appbox}{1191.8}{861}{1333.4}{881.7}{Document Management System}{\appico}
\draw[faintln] (taCall.north -| 1191.4,0) -- (taWeb.south -| 1191.4,0);
\coordinate (taBendA) at (1243,689.3);
\coordinate (taBendB) at (1243,657);
\draw[faintln] (taBendA) -- (taBendB) -- (taWeb.east |- taBendB);
\draw[flowln] (taCrm.west |- taBendA) -- (taCall.east |- taBendA);
\coordinate (taBendG) at (1240,698.3);
\draw[flowln] (taCall.east |- taBendG) -- (taCrm.west |- taBendG);
\coordinate (taFromBack) at (1303.7,711);
\draw[solidln] (taFromBack) -- (taCrm.south -| taFromBack);
\coordinate (taRowA) at (1225,751.7);
\coordinate (taRowB) at (1225,757.3);
\coordinate (taRowC) at (1277,754.3);
\draw[solidln] (taAdmin.west |- taRowA) -- (taAuto.east |- taRowA);
\draw[solidln] (taAuto.east |- taRowB) -- (taAdmin.west |- taRowB);
\draw[flowln] (taAdmin.east |- taRowC) -- (taVitra.west |- taRowC);
\draw[solidln] (taConfig.north -| 1212.3,0) -- (taAuto.south -| 1212.3,0);
\draw[faintln] (taConfig.north -| 1242,0) -- (taAdmin.south -| 1242,0);
\draw[faintln] (taTrips.north -| 1239,0) -- (taConfig.south -| 1239,0);
\draw[solidln] (taTrips.north -| 1262,0) -- (taAdmin.south -| 1262,0);
\coordinate (taBendC) at (1297.7,781);
\draw[faintln] (taConfig.east |- taBendC) -- (taBendC) -- (taVitra.south -| taBendC);
\coordinate (taBendD) at (1194.7,816);
\draw[faintln] (taTrips.west |- taBendD) -- (taBendD) -- (taAuto.south -| taBendD);
\coordinate (taBendE) at (1306.6,816);
\draw[draw=linegray,line width=.5pt] (taTrips.east |- taBendE) -- (taBendE);
\draw[faintln] (taBendE) -- (taVitra.south -| taBendE);
\coordinate (taRowD) at (1338,790);
\coordinate (taRowF) at (1340,798);
\draw[solidln] (taRowD) -- (taWare.west |- taRowD);
\draw[solidln] (taRowF) -- (taSuite.east |- taRowF);
\draw[flowln] (taSuite.south -| 1262,0) -- (taDoc.north -| 1262,0);
\draw[solidln,draw=faintgray!50!linegray] (taDoc.north -| 1271.4,0) -- (taSuite.south -| 1271.4,0);
\node[talab] (taL1) at (1226,666) {CRM\\data};
\node[talab,fill=panelbg] (taL2) at (1174.6,673.3) {solutions};
\node[talab] (taL3) at (1240.8,704.7) {call report};
\node[talab] (taL4) at (1323.8,713.3) {customer data};
\node[talab] (taL5) at (1239.6,840.3) {document data};
\end{tikzpicture}
\end{document}
